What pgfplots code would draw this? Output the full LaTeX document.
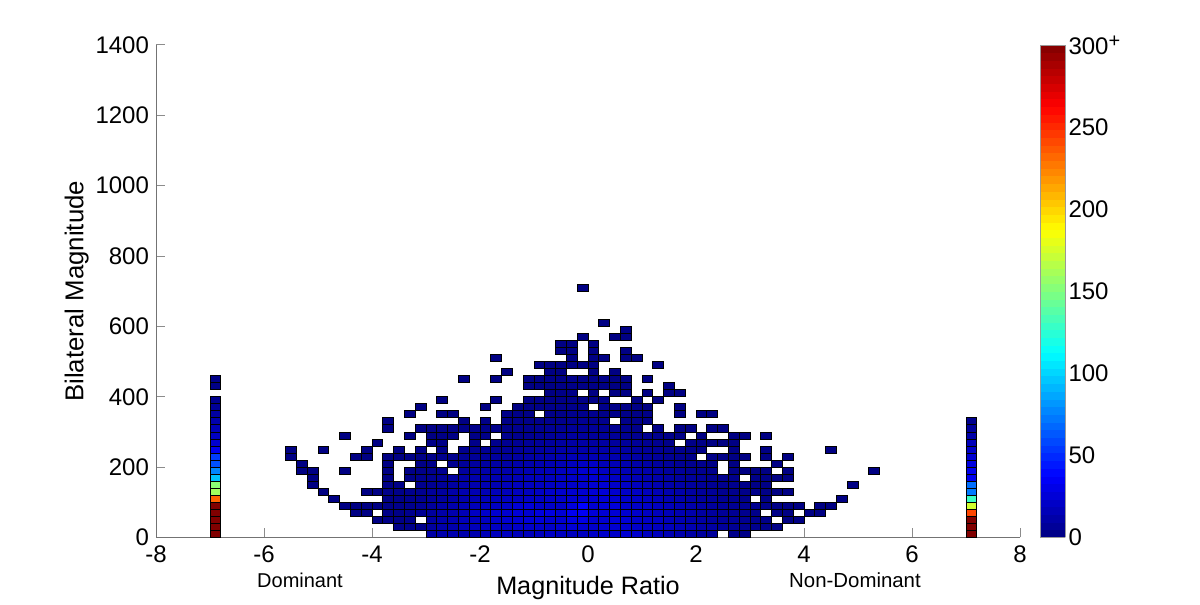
\documentclass[border=0pt]{standalone}
\usepackage{fontspec}
\setmainfont{Liberation Sans}
\usepackage{pgfplots}
\pgfplotsset{compat=1.18}

% one histogram bin: 0.2 wide, 20 tall at this axis size
\pgfdeclareplotmark{cell}{%
  \pgfpathrectangle{\pgfpoint{-2.7pt}{-1.758pt}}{\pgfpoint{5.4pt}{3.517pt}}%
  \pgfusepathqfillstroke}

\begin{document}
\begin{tikzpicture}
\path[use as bounding box] (0,0) rectangle (600pt,302.5pt);
\begin{axis}[
  at={(78pt,33.75pt)}, anchor=south west,
  scale only axis, width=432pt, height=246.25pt,
  xmin=-8, xmax=8, ymin=0, ymax=1400,
  xtick={-8,-6,...,8}, ytick={0,200,...,1400},
  axis lines=left, axis line style={-, draw=black!55, line width=0.5pt},
  tick align=inside, major tick length=4.5pt,
  tick style={draw=black!45, line width=0.5pt},
  /pgf/number format/assume math mode=true,
  /pgf/number format/1000 sep={},
  tick label style={font=\fontsize{12}{14}\selectfont},
  x tick label style={yshift=-0.5pt},
  xlabel={Magnitude Ratio}, ylabel={Bilateral Magnitude},
  xlabel style={font=\fontsize{12.6}{14}\selectfont},
  ylabel style={font=\fontsize{12.9}{14}\selectfont, yshift=-3.5pt},
  colormap/jet, point meta min=0, point meta max=300,
  colorbar sampled,
  colorbar style={
    samples=65,
    at={(parent axis.right of north east)}, anchor=north west, xshift=-5pt,
    width=12.5pt, height=246.25pt,
    ytick={0,50,...,300},
    yticklabels={0,50,100,150,200,250,300\raisebox{3.5pt}{\fontsize{10}{10}\selectfont +}},
    ticklabel pos=right, major tick length=0pt,
    axis line style={draw=black!40, line width=0.3pt},
    tick label style={font=\fontsize{12}{14}\selectfont, xshift=-2pt},
  },
]
\addplot[scatter, only marks, mark=cell, point meta=explicit,
  scatter/use mapped color={draw=black, fill=mapped color},
  every mark/.append style={line width=0.45pt}]
coordinates {
(-6.9,10)[400] (-6.9,30)[380] (-6.9,50)[360] (-6.9,70)[340] (-6.9,90)[310] (-6.9,110)[233] (-6.9,130)[160] (-6.9,150)[153] (-6.9,170)[95] (-6.9,190)[77] (-6.9,210)[61] (-6.9,230)[55] (-6.9,250)[33] (-6.9,270)[24] (-6.9,290)[19] (-6.9,310)[16] (-6.9,330)[13] (-6.9,350)[10] (-6.9,370)[7] (-6.9,390)[4] (-6.9,430)[2] (-6.9,450)[2]
(7.1,10)[350] (7.1,30)[320] (7.1,50)[300] (7.1,70)[242] (7.1,90)[174] (7.1,110)[130] (7.1,130)[73] (7.1,150)[70] (7.1,170)[33] (7.1,190)[32] (7.1,210)[28] (7.1,230)[24] (7.1,250)[21] (7.1,270)[17] (7.1,290)[12] (7.1,310)[8] (7.1,330)[4]
(-2.9,10)[11] (-2.7,10)[13] (-2.5,10)[14] (-2.3,10)[13] (-2.1,10)[14] (-1.9,10)[16] (-1.7,10)[18] (-1.5,10)[19] (-1.3,10)[17] (-1.1,10)[17] (-0.9,10)[18] (-0.7,10)[20] (-0.5,10)[19] (-0.3,10)[18] (-0.1,10)[19] (0.1,10)[21] (0.3,10)[22] (0.5,10)[22] (0.7,10)[24] (0.9,10)[23] (1.1,10)[19] (1.3,10)[18] (1.5,10)[15] (1.7,10)[13] (1.9,10)[11] (2.1,10)[9] (2.3,10)[8] (2.7,10)[3] (2.9,10)[2]
(-3.5,30)[2] (-3.3,30)[3] (-3.1,30)[3] (-2.9,30)[9] (-2.7,30)[12] (-2.5,30)[13] (-2.3,30)[15] (-2.1,30)[17] (-1.9,30)[18] (-1.7,30)[20] (-1.5,30)[19] (-1.3,30)[21] (-1.1,30)[22] (-0.9,30)[22] (-0.7,30)[21] (-0.5,30)[23] (-0.3,30)[25] (-0.1,30)[24] (0.1,30)[22] (0.3,30)[23] (0.5,30)[24] (0.7,30)[23] (0.9,30)[22] (1.1,30)[20] (1.3,30)[19] (1.5,30)[18] (1.7,30)[16] (1.9,30)[14] (2.1,30)[11] (2.3,30)[10] (2.5,30)[8] (2.7,30)[6] (2.9,30)[5] (3.1,30)[4] (3.3,30)[3] (3.5,30)[2]
(-3.9,50)[1] (-3.7,50)[2] (-3.5,50)[2] (-3.3,50)[3] (-2.9,50)[10] (-2.7,50)[13] (-2.5,50)[15] (-2.3,50)[17] (-2.1,50)[18] (-1.9,50)[19] (-1.7,50)[22] (-1.5,50)[24] (-1.3,50)[24] (-1.1,50)[26] (-0.9,50)[27] (-0.7,50)[24] (-0.5,50)[24] (-0.3,50)[29] (-0.1,50)[30] (0.1,50)[24] (0.3,50)[24] (0.5,50)[26] (0.7,50)[25] (0.9,50)[22] (1.1,50)[21] (1.3,50)[20] (1.5,50)[17] (1.7,50)[15] (1.9,50)[13] (2.1,50)[11] (2.3,50)[9] (2.5,50)[8] (2.7,50)[7] (2.9,50)[5] (3.1,50)[4] (3.3,50)[2] (3.7,50)[1] (3.9,50)[1]
(-4.3,70)[1] (-4.1,70)[1] (-3.7,70)[2] (-3.5,70)[2] (-3.3,70)[4] (-3.1,70)[6] (-2.9,70)[9] (-2.7,70)[12] (-2.5,70)[14] (-2.3,70)[16] (-2.1,70)[20] (-1.9,70)[22] (-1.7,70)[24] (-1.5,70)[24] (-1.3,70)[26] (-1.1,70)[24] (-0.9,70)[28] (-0.7,70)[29] (-0.5,70)[25] (-0.3,70)[33] (-0.1,70)[34] (0.1,70)[26] (0.3,70)[25] (0.5,70)[25] (0.7,70)[24] (0.9,70)[22] (1.1,70)[20] (1.3,70)[18] (1.5,70)[17] (1.7,70)[15] (1.9,70)[13] (2.1,70)[10] (2.3,70)[9] (2.5,70)[7] (2.7,70)[6] (2.9,70)[4] (3.1,70)[3] (3.5,70)[2] (3.7,70)[1] (4.1,70)[1] (4.3,70)[1]
(-4.5,90)[1] (-4.3,90)[1] (-4.1,90)[1] (-3.9,90)[1] (-3.7,90)[2] (-3.5,90)[3] (-3.3,90)[4] (-3.1,90)[6] (-2.9,90)[8] (-2.7,90)[11] (-2.5,90)[13] (-2.3,90)[15] (-2.1,90)[17] (-1.9,90)[19] (-1.7,90)[20] (-1.5,90)[21] (-1.3,90)[25] (-1.1,90)[26] (-0.9,90)[22] (-0.7,90)[22] (-0.5,90)[21] (-0.3,90)[27] (-0.1,90)[38] (0.1,90)[24] (0.3,90)[26] (0.5,90)[27] (0.7,90)[23] (0.9,90)[22] (1.1,90)[21] (1.3,90)[19] (1.5,90)[17] (1.7,90)[15] (1.9,90)[13] (2.1,90)[11] (2.3,90)[9] (2.5,90)[7] (2.7,90)[6] (2.9,90)[5] (3.1,90)[4] (3.3,90)[3] (3.5,90)[2] (3.7,90)[1] (3.9,90)[1] (4.3,90)[1] (4.5,90)[1]
(-4.7,110)[1] (-3.7,110)[2] (-3.5,110)[3] (-3.3,110)[4] (-3.1,110)[5] (-2.9,110)[7] (-2.7,110)[9] (-2.5,110)[11] (-2.3,110)[13] (-2.1,110)[15] (-1.9,110)[17] (-1.7,110)[18] (-1.5,110)[19] (-1.3,110)[19] (-1.1,110)[21] (-0.9,110)[20] (-0.7,110)[21] (-0.5,110)[22] (-0.3,110)[24] (-0.1,110)[24] (0.1,110)[24] (0.3,110)[25] (0.5,110)[24] (0.7,110)[22] (0.9,110)[21] (1.1,110)[19] (1.3,110)[17] (1.5,110)[15] (1.7,110)[13] (1.9,110)[11] (2.1,110)[9] (2.3,110)[8] (2.5,110)[6] (2.7,110)[5] (2.9,110)[3] (3.3,110)[2] (4.7,110)[1]
(-4.9,130)[1] (-4.1,130)[1] (-3.9,130)[1] (-3.7,130)[3] (-3.5,130)[3] (-3.3,130)[4] (-3.1,130)[5] (-2.9,130)[8] (-2.7,130)[9] (-2.5,130)[12] (-2.3,130)[14] (-2.1,130)[15] (-1.9,130)[16] (-1.7,130)[17] (-1.5,130)[17] (-1.3,130)[19] (-1.1,130)[19] (-0.9,130)[20] (-0.7,130)[22] (-0.5,130)[23] (-0.3,130)[24] (-0.1,130)[24] (0.1,130)[25] (0.3,130)[26] (0.5,130)[23] (0.7,130)[21] (0.9,130)[20] (1.1,130)[18] (1.3,130)[16] (1.5,130)[14] (1.7,130)[12] (1.9,130)[10] (2.1,130)[8] (2.3,130)[7] (2.5,130)[5] (2.7,130)[4] (2.9,130)[3] (3.1,130)[3] (3.3,130)[2] (3.5,130)[1] (3.7,130)[1]
(-5.1,150)[1] (-3.7,150)[2] (-3.5,150)[2] (-3.1,150)[4] (-2.9,150)[6] (-2.7,150)[8] (-2.5,150)[10] (-2.3,150)[12] (-2.1,150)[14] (-1.9,150)[15] (-1.7,150)[15] (-1.5,150)[17] (-1.3,150)[18] (-1.1,150)[19] (-0.9,150)[19] (-0.7,150)[20] (-0.5,150)[21] (-0.3,150)[22] (-0.1,150)[23] (0.1,150)[25] (0.3,150)[24] (0.5,150)[22] (0.7,150)[20] (0.9,150)[18] (1.1,150)[16] (1.3,150)[14] (1.5,150)[12] (1.7,150)[11] (1.9,150)[9] (2.1,150)[7] (2.3,150)[6] (2.5,150)[5] (2.7,150)[4] (2.9,150)[3] (3.1,150)[2] (3.3,150)[2] (4.9,150)[1]
(-5.1,170)[1] (-3.7,170)[1] (-3.3,170)[2] (-3.1,170)[4] (-2.9,170)[5] (-2.7,170)[7] (-2.5,170)[9] (-2.3,170)[11] (-2.1,170)[13] (-1.9,170)[13] (-1.7,170)[14] (-1.5,170)[15] (-1.3,170)[16] (-1.1,170)[17] (-0.9,170)[18] (-0.7,170)[18] (-0.5,170)[20] (-0.3,170)[21] (-0.1,170)[22] (0.1,170)[24] (0.3,170)[22] (0.5,170)[20] (0.7,170)[18] (0.9,170)[16] (1.1,170)[14] (1.3,170)[12] (1.5,170)[11] (1.7,170)[9] (1.9,170)[8] (2.1,170)[7] (2.3,170)[5] (2.5,170)[4] (2.7,170)[3] (3.1,170)[2] (3.3,170)[2] (3.5,170)[1] (3.7,170)[1]
(-5.3,190)[1] (-5.1,190)[1] (-4.5,190)[1] (-3.7,190)[1] (-3.3,190)[2] (-3.1,190)[3] (-2.9,190)[4] (-2.7,190)[5] (-2.3,190)[9] (-2.1,190)[11] (-1.9,190)[12] (-1.7,190)[13] (-1.5,190)[13] (-1.3,190)[14] (-1.1,190)[15] (-0.9,190)[16] (-0.7,190)[17] (-0.5,190)[19] (-0.3,190)[21] (-0.1,190)[24] (0.1,190)[25] (0.3,190)[20] (0.5,190)[18] (0.7,190)[16] (0.9,190)[14] (1.1,190)[13] (1.3,190)[11] (1.5,190)[9] (1.7,190)[8] (1.9,190)[6] (2.1,190)[5] (2.3,190)[4] (2.7,190)[2] (2.9,190)[1] (3.1,190)[1] (3.3,190)[1] (3.7,190)[1] (5.3,190)[1]
(-5.3,210)[1] (-3.7,210)[1] (-3.1,210)[2] (-2.9,210)[3] (-2.5,210)[5] (-2.3,210)[7] (-2.1,210)[9] (-1.9,210)[10] (-1.7,210)[11] (-1.5,210)[11] (-1.3,210)[12] (-1.1,210)[13] (-0.9,210)[14] (-0.7,210)[15] (-0.5,210)[16] (-0.3,210)[18] (-0.1,210)[20] (0.1,210)[21] (0.3,210)[17] (0.5,210)[16] (0.7,210)[14] (0.9,210)[12] (1.1,210)[11] (1.3,210)[9] (1.5,210)[8] (1.7,210)[6] (1.9,210)[5] (2.1,210)[4] (2.3,210)[2] (2.7,210)[1] (3.5,210)[1]
(-5.5,230)[1] (-4.3,230)[1] (-4.1,230)[1] (-3.7,230)[1] (-3.5,230)[1] (-3.3,230)[2] (-3.1,230)[2] (-2.9,230)[3] (-2.7,230)[4] (-2.5,230)[4] (-2.3,230)[6] (-2.1,230)[7] (-1.9,230)[8] (-1.7,230)[9] (-1.5,230)[9] (-1.3,230)[10] (-1.1,230)[11] (-0.9,230)[12] (-0.7,230)[13] (-0.5,230)[14] (-0.3,230)[16] (-0.1,230)[15] (0.1,230)[15] (0.3,230)[14] (0.5,230)[14] (0.7,230)[12] (0.9,230)[11] (1.1,230)[9] (1.3,230)[8] (1.5,230)[6] (1.7,230)[5] (1.9,230)[3] (2.3,230)[2] (2.5,230)[2] (2.7,230)[1] (2.9,230)[1] (3.3,230)[1] (3.7,230)[1]
(-5.5,250)[1] (-4.9,250)[1] (-4.1,250)[1] (-3.5,250)[1] (-3.1,250)[2] (-2.7,250)[3] (-2.3,250)[4] (-2.1,250)[5] (-1.9,250)[6] (-1.7,250)[6] (-1.5,250)[7] (-1.3,250)[8] (-1.1,250)[9] (-0.9,250)[10] (-0.7,250)[11] (-0.5,250)[12] (-0.3,250)[12] (-0.1,250)[13] (0.1,250)[13] (0.3,250)[12] (0.5,250)[12] (0.7,250)[10] (0.9,250)[9] (1.1,250)[8] (1.3,250)[7] (1.5,250)[5] (1.7,250)[4] (1.9,250)[3] (2.1,250)[2] (2.7,250)[1] (3.3,250)[1] (4.5,250)[1]
(-3.9,270)[1] (-2.9,270)[2] (-2.7,270)[2] (-2.1,270)[3] (-1.7,270)[4] (-1.5,270)[5] (-1.3,270)[6] (-1.1,270)[7] (-0.9,270)[8] (-0.7,270)[9] (-0.5,270)[10] (-0.3,270)[11] (-0.1,270)[11] (0.1,270)[10] (0.3,270)[10] (0.5,270)[9] (0.7,270)[8] (0.9,270)[7] (1.1,270)[6] (1.3,270)[5] (1.5,270)[3] (1.9,270)[2] (2.1,270)[2] (2.3,270)[1] (2.5,270)[1] (2.7,270)[1]
(-4.5,290)[1] (-3.3,290)[1] (-2.9,290)[1] (-2.7,290)[2] (-2.5,290)[2] (-2.1,290)[2] (-1.9,290)[3] (-1.5,290)[4] (-1.3,290)[4] (-1.1,290)[5] (-0.9,290)[6] (-0.7,290)[7] (-0.5,290)[8] (-0.3,290)[9] (-0.1,290)[9] (0.1,290)[8] (0.3,290)[8] (0.5,290)[7] (0.7,290)[6] (0.9,290)[5] (1.1,290)[5] (1.3,290)[4] (1.5,290)[3] (1.7,290)[2] (2.1,290)[1] (2.7,290)[1] (2.9,290)[1] (3.3,290)[1]
(-3.7,310)[1] (-3.1,310)[1] (-2.9,310)[2] (-2.7,310)[2] (-2.5,310)[2] (-2.3,310)[2] (-2.1,310)[3] (-1.9,310)[3] (-1.7,310)[3] (-1.5,310)[3] (-1.3,310)[4] (-1.1,310)[4] (-0.9,310)[5] (-0.7,310)[6] (-0.5,310)[6] (-0.3,310)[7] (-0.1,310)[7] (0.1,310)[7] (0.3,310)[6] (0.5,310)[5] (0.7,310)[5] (0.9,310)[3] (1.3,310)[2] (1.7,310)[1] (1.9,310)[1] (2.3,310)[1] (2.5,310)[1]
(-3.7,330)[1] (-2.3,330)[1] (-1.9,330)[2] (-1.5,330)[2] (-1.3,330)[3] (-1.1,330)[3] (-0.9,330)[3] (-0.7,330)[4] (-0.5,330)[4] (-0.3,330)[5] (-0.1,330)[6] (0.1,330)[5] (0.3,330)[4] (0.7,330)[3] (0.9,330)[3] (1.1,330)[2]
(-3.3,350)[1] (-2.7,350)[1] (-2.5,350)[1] (-1.5,350)[2] (-1.3,350)[2] (-1.1,350)[2] (-0.7,350)[3] (-0.5,350)[3] (-0.3,350)[4] (-0.1,350)[4] (0.1,350)[4] (0.3,350)[3] (0.5,350)[3] (0.7,350)[3] (0.9,350)[2] (1.1,350)[2] (1.7,350)[1] (2.1,350)[1] (2.3,350)[1]
(-3.1,370)[1] (-1.9,370)[1] (-1.3,370)[1] (-1.1,370)[2] (-0.9,370)[2] (-0.7,370)[3] (-0.5,370)[3] (-0.3,370)[3] (-0.1,370)[3] (0.3,370)[3] (0.5,370)[2] (0.7,370)[2] (0.9,370)[2] (1.1,370)[1] (1.7,370)[1]
(-2.7,390)[1] (-1.7,390)[1] (-1.1,390)[1] (-0.9,390)[2] (-0.7,390)[2] (-0.5,390)[2] (-0.3,390)[3] (-0.1,390)[2] (0.1,390)[2] (0.3,390)[2] (0.9,390)[1] (1.3,390)[1]
(-0.7,410)[1] (-0.5,410)[2] (-0.3,410)[2] (0.1,410)[1] (0.5,410)[1] (0.7,410)[1] (1.1,410)[1] (1.5,410)[1] (1.7,410)[1]
(-1.1,430)[1] (-0.9,430)[1] (-0.7,430)[1] (-0.5,430)[2] (-0.3,430)[2] (-0.1,430)[2] (0.1,430)[2] (0.3,430)[1] (0.5,430)[1] (0.7,430)[1] (1.5,430)[1]
(-2.3,450)[1] (-1.7,450)[1] (-1.1,450)[1] (-0.9,450)[1] (-0.7,450)[2] (-0.5,450)[2] (-0.3,450)[3] (-0.1,450)[2] (0.1,450)[2] (0.3,450)[2] (0.5,450)[1] (0.7,450)[1] (1.1,450)[1]
(-1.5,470)[1] (-0.7,470)[1] (-0.5,470)[1] (0.1,470)[1] (0.5,470)[1]
(-0.9,490)[1] (-0.7,490)[1] (-0.5,490)[1] (-0.3,490)[1] (-0.1,490)[1] (0.1,490)[1] (1.3,490)[1]
(-1.7,510)[1] (-0.3,510)[1] (0.1,510)[1] (0.3,510)[1] (0.7,510)[1] (0.9,510)[1]
(-0.5,530)[1] (-0.3,530)[1] (0.1,530)[1] (0.7,530)[1]
(-0.5,550)[1] (-0.3,550)[1] (0.1,550)[1]
(-0.1,570)[1] (0.5,570)[1] (0.7,570)[1]
(0.7,590)[1]
(0.3,610)[1]
(-0.1,710)[1]
};
\end{axis}
\node[font=\fontsize{10}{12}\selectfont] at (150pt,12.5pt) {Dominant};
\node[font=\fontsize{10.2}{12}\selectfont] at (427.5pt,12.5pt) {Non-Dominant};
\end{tikzpicture}
\end{document}
